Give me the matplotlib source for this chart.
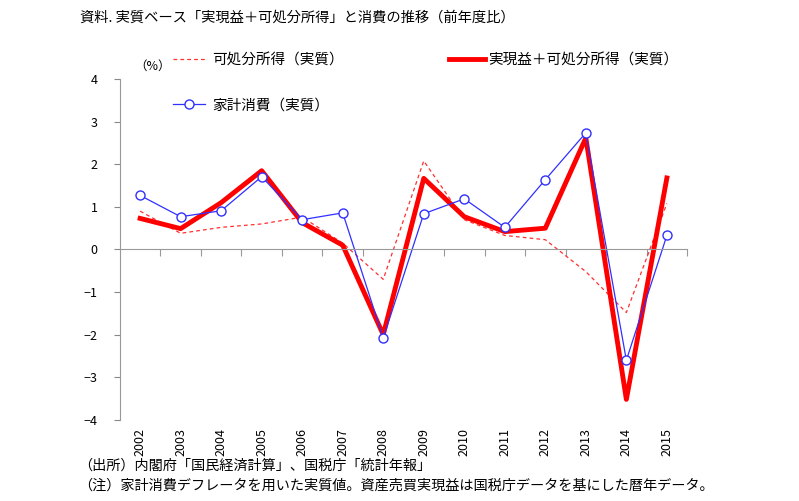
import matplotlib.pyplot as plt
from matplotlib.lines import Line2D

plt.rcParams['font.family'] = ['Noto Sans CJK JP', 'DejaVu Sans']

years = ['2002', '2003', '2004', '2005', '2006', '2007', '2008',
         '2009', '2010', '2011', '2012', '2013', '2014', '2015']
disposable = [0.90, 0.38, 0.52, 0.60, 0.76, 0.15, -0.70,
              2.08, 0.70, 0.33, 0.23, -0.52, -1.48, 1.08]
realized_plus_disp = [0.73, 0.49, 1.10, 1.85, 0.63, 0.10, -2.00,
                      1.67, 0.77, 0.42, 0.50, 2.62, -3.52, 1.68]
consumption = [1.27, 0.77, 0.91, 1.71, 0.70, 0.86, -2.08,
               0.84, 1.19, 0.52, 1.64, 2.74, -2.60, 0.33]

fig = plt.figure(figsize=(7.99, 5.01), dpi=100)
ax = fig.add_axes([0.150, 0.162, 0.710, 0.680])
x = range(len(years))

l1, = ax.plot(x, disposable, color='#FF3030', lw=0.9, ls=(0, (3, 2.5)))
l2, = ax.plot(x, realized_plus_disp, color='#FF0000', lw=3.5)
l3, = ax.plot(x, consumption, color='#3030FF', lw=0.9, marker='o',
              markersize=6.5, markerfacecolor='white', markeredgecolor='#3030FF')

ax.set_xlim(-0.5, len(years) - 0.5)
ax.set_ylim(-4, 4)
ax.set_yticks(range(-4, 5))
ax.set_yticklabels(['−4', '−3', '−2', '−1', '0', '1', '2', '3', '4'])
ax.tick_params(axis='y', length=4, color='#888888', labelsize=9, pad=12)

for s in ['top', 'right']:
    ax.spines[s].set_visible(False)
ax.spines['left'].set_color('#999999')
ax.spines['bottom'].set_position(('data', 0))
ax.spines['bottom'].set_color('#999999')
ax.set_xticks([i + 0.5 for i in range(len(years))])
ax.set_xticklabels([])
ax.tick_params(axis='x', length=5, color='#999999', direction='out')

sec = ax.secondary_xaxis(0)
sec.set_xticks(list(x))
sec.set_xticklabels(years, rotation=90, fontsize=9)
sec.tick_params(length=0, pad=6)
sec.spines['bottom'].set_visible(False)

ax.text(-0.15, 4.15, '（%）', fontsize=9, ha='left', va='bottom')

leg1 = fig.legend([l1], ['可処分所得（実質）'], loc='center left',
                  bbox_to_anchor=(0.200, 0.880), frameon=False, fontsize=10.5,
                  handlelength=2.2, handletextpad=0.5)
leg2 = fig.legend([Line2D([], [], color='#FF0000', lw=3.5)], ['実現益＋可処分所得（実質）'],
                  loc='center left', bbox_to_anchor=(0.545, 0.880), frameon=False,
                  fontsize=10.5, handlelength=2.5, handletextpad=0.2)
leg3 = fig.legend([l3], ['家計消費（実質）'], loc='center left',
                  bbox_to_anchor=(0.200, 0.790), frameon=False, fontsize=10.5,
                  handlelength=2.2, handletextpad=0.5)

fig.text(0.100, 0.965, '資料. 実質ベース「実現益＋可処分所得」と消費の推移（前年度比）',
         fontsize=10.3, ha='left', va='center')
fig.text(0.098, 0.070, '（出所）内閣府「国民経済計算」、国税庁「統計年報」',
         fontsize=10.2, ha='left', va='center')
fig.text(0.098, 0.030, '（注）家計消費デフレータを用いた実質値。資産売買実現益は国税庁データを基にした暦年データ。',
         fontsize=10.2, ha='left', va='center')

fig.savefig('out.png', dpi=100)
